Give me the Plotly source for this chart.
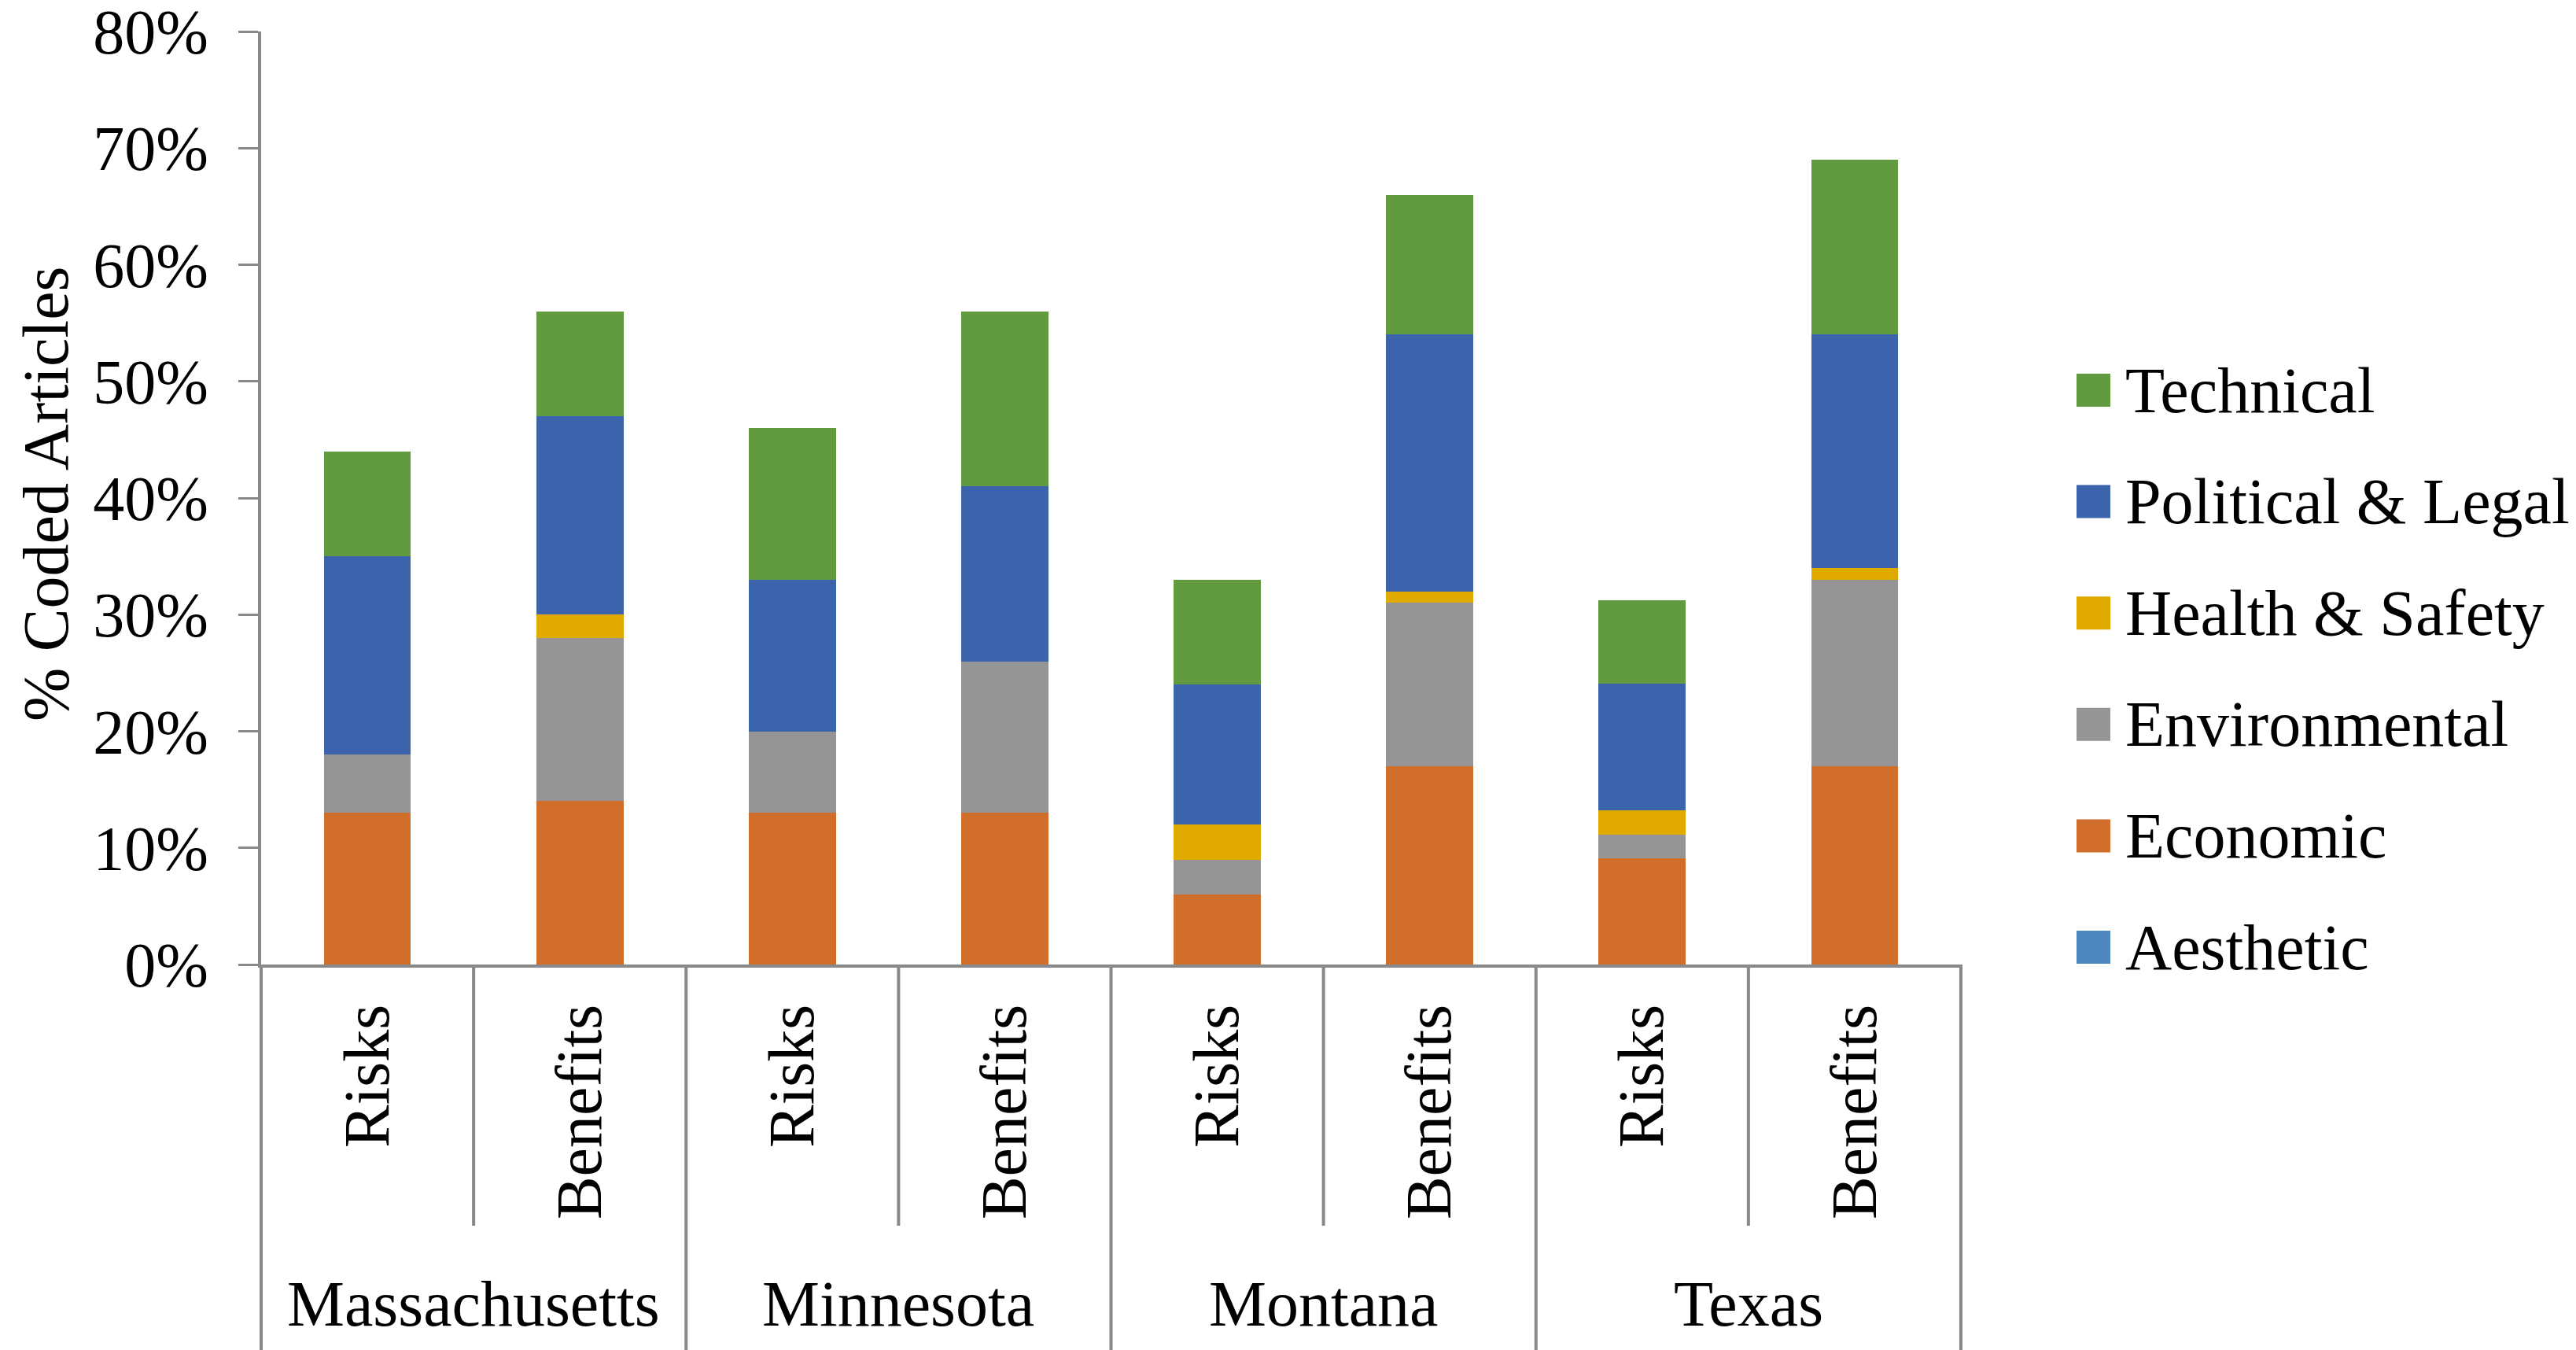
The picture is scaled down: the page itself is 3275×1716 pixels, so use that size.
import plotly.graph_objects as go

# ---------------- data ----------------
states = ["Massachusetts", "Minnesota", "Montana", "Texas"]
kinds = ["Risks", "Benefits"]

aesthetic = [0, 0, 0, 0, 0, 0, 0, 0]
economic = [13, 14, 13, 13, 6, 17, 9.1, 17]
environmental = [5, 14, 7, 13, 3, 14, 2.0, 16]
health_safety = [0, 2, 0, 0, 3, 1, 2.1, 1]
political_legal = [17, 17, 13, 15, 12, 22, 10.9, 20]
technical = [9, 9, 13, 15, 9, 12, 7.1, 15]

series_names = ["Aesthetic", "Economic", "Environmental", "Health & Safety",
                "Political & Legal", "Technical"]
series_values = [aesthetic, economic, environmental, health_safety,
                 political_legal, technical]
series_colors = ["#4F88BF", "#D26E2B", "#959595", "#E1AA00", "#3C64AC", "#629A3F"]

y_ticks = [0, 10, 20, 30, 40, 50, 60, 70, 80]
y_title = "% Coded Articles"

# ---------------- layout constants ----------------
W, H = 3275, 1716
OFF = 8  # page body margin
PX0, PX1, PY0, PY1 = 332, 2493, 40, 1226   # plot area in page pixels
L, T = PX0 - OFF, PY0 - OFF
PW, PH = PX1 - PX0, PY1 - PY0
R, B = W - L - PW, H - T - PH
FONT = "Liberation Serif, Times New Roman, Times, serif"
GREY = "#898989"


def px_x(px):
    return (px - PX0) / PW


def px_y(py):
    return (PY1 - py) / PH


cats = [f"{s} | {k}" for s in states for k in kinds]
cat_text = [k for s in states for k in kinds]

fig = go.Figure()
for name, vals, col in zip(series_names, series_values, series_colors):
    fig.add_trace(go.Bar(x=cats, y=vals, name=name, marker_color=col,
                         marker_line_width=0, showlegend=False))

fig.update_layout(
    width=W, height=H,
    margin=dict(l=L, r=R, t=T, b=B, autoexpand=False),
    barmode="stack", bargap=0.59,
    paper_bgcolor="white", plot_bgcolor="white",
    font=dict(family=FONT, size=82, color="black"),
)

fig.update_xaxes(
    type="category", categoryorder="array", categoryarray=cats,
    range=[-0.5, len(cats) - 0.5],
    tickmode="array", tickvals=cats, ticktext=cat_text, tickangle=-90,
    ticks="", showgrid=False, zeroline=False,
    showline=True, linecolor=GREY, linewidth=4,
    tickfont=dict(family=FONT, size=82, color="black"),
    ticklabelstandoff=14,
)
fig.update_yaxes(
    range=[0, 80], tickmode="array", tickvals=y_ticks,
    ticktext=[f"{v}%" for v in y_ticks],
    ticks="outside", ticklen=25, tickwidth=3, tickcolor=GREY,
    showline=True, linecolor=GREY, linewidth=4,
    showgrid=False, zeroline=False,
    tickfont=dict(family=FONT, size=80, color="black"),
    ticklabelstandoff=22, ticklabeloverflow="allow",
)

# y-axis title (kept fully inside the page)
fig.add_annotation(x=px_x(58), y=px_y(628), xref="paper", yref="paper",
                   text=y_title, textangle=-90, showarrow=False,
                   xanchor="center", yanchor="middle",
                   font=dict(family=FONT, size=82, color="black"))

# ---------------- category dividers ----------------
n = len(cats)
for i in range(n + 1):
    xb = i / n
    y_end = px_y(1558) if i % 2 == 1 else px_y(1716)
    fig.add_shape(type="line", xref="paper", yref="paper",
                  x0=xb, x1=xb, y0=0, y1=y_end,
                  line=dict(color=GREY, width=4))

# group labels
for gi, s in enumerate(states):
    fig.add_annotation(x=gi * len(kinds) + (len(kinds) - 1) / 2, y=px_y(1657),
                       xref="x", yref="paper", text=s, showarrow=False,
                       font=dict(family=FONT, size=82, color="black"),
                       xanchor="center", yanchor="middle")

# ---------------- legend (top = last series) ----------------
leg_top = 496
leg_step = 141.6
for j, (name, col) in enumerate(zip(series_names[::-1], series_colors[::-1])):
    cy = leg_top + j * leg_step
    fig.add_shape(type="rect", xref="paper", yref="paper",
                  x0=px_x(2640), x1=px_x(2683), y0=px_y(cy + 21), y1=px_y(cy - 21),
                  line=dict(width=0), fillcolor=col)
    fig.add_annotation(x=px_x(2700), y=px_y(cy), xref="paper", yref="paper",
                       text=name, showarrow=False, xanchor="left", yanchor="middle",
                       font=dict(family=FONT, size=82, color="black"))

fig.write_html("out.html")
